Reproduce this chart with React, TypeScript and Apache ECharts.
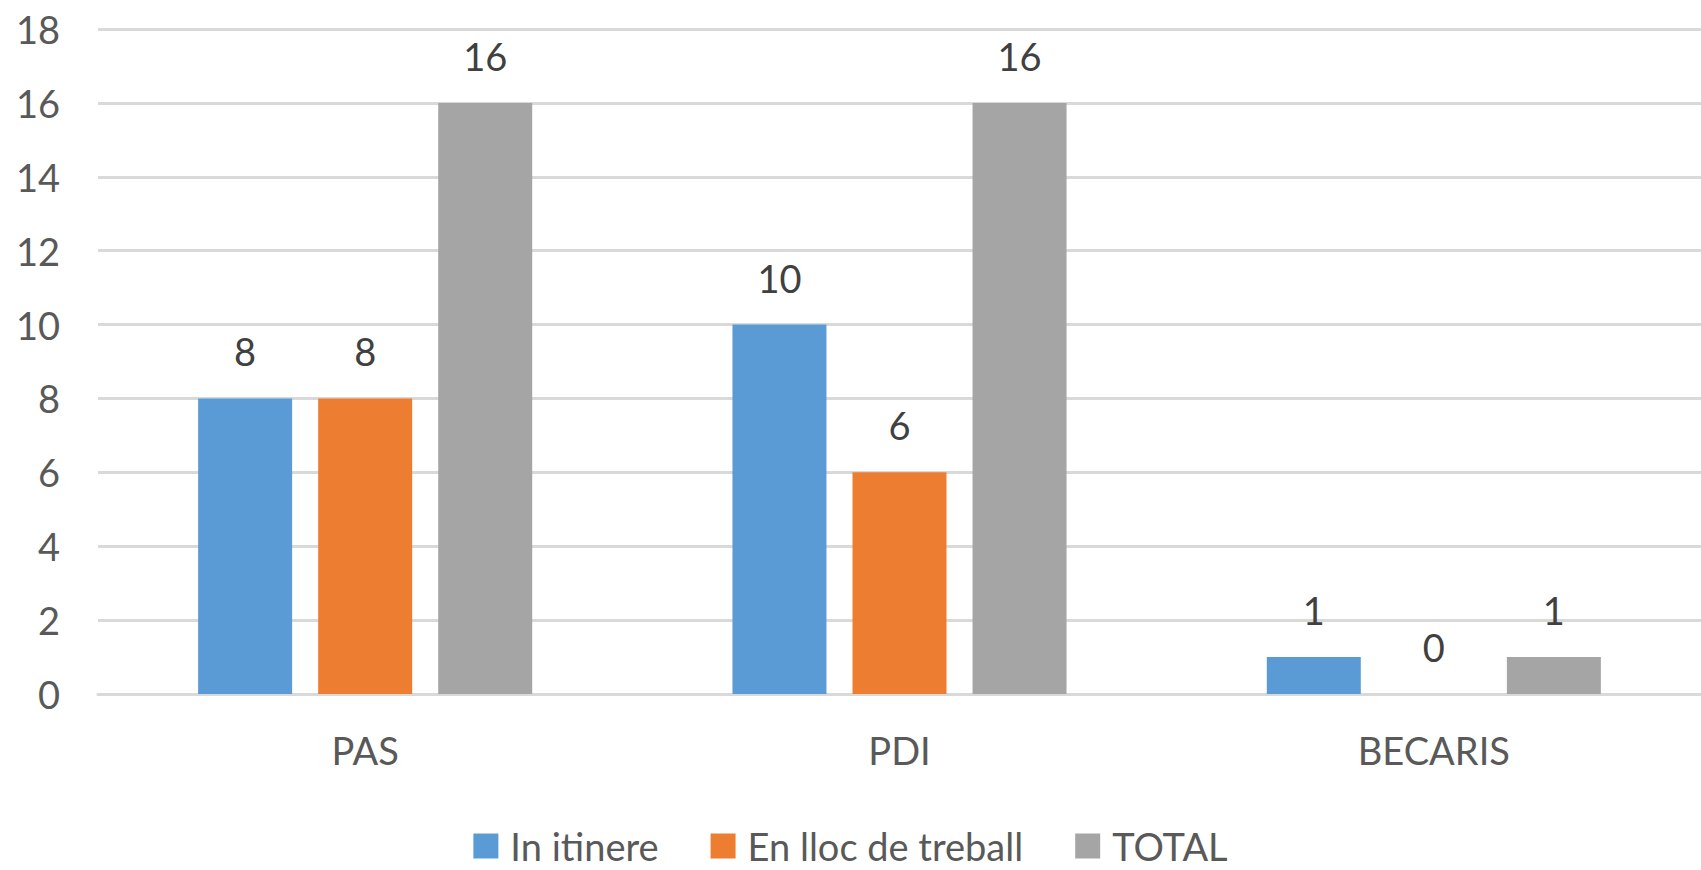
import React, { useEffect, useRef } from "react";
import * as echarts from "echarts";

const categories = ["PAS", "PDI", "BECARIS"];
const seriesNames = ["In itinere", "En lloc de treball", "TOTAL"];
const inItinere = [8, 10, 1];
const enLloc = [8, 6, 0];
const total = [16, 16, 1];
const colors = ["#5B9BD5", "#ED7D31", "#A5A5A5"];

const FONT = "Lato";
const TXT = "#595959";

export default function App() {
  const ref = useRef<HTMLDivElement>(null);
  useEffect(() => {
    document.body.style.margin = "0";
    const chart = echarts.init(ref.current!, null, { renderer: "svg" });
    const values = [inItinere, enLloc, total];
    chart.setOption({
      animation: false,
      textStyle: { fontFamily: FONT },
      grid: { left: 98, right: -29, top: 29, bottom: 176, containLabel: false },
      legend: {
        data: seriesNames,
        top: 822,
        left: "center",
        itemWidth: 25,
        itemHeight: 25,
        itemGap: 52,
        icon: "rect",
        textStyle: { fontFamily: FONT, fontSize: 38, lineHeight: 38, color: TXT, padding: [0, 0, 0, 7] },
      },
      xAxis: {
        type: "category",
        data: categories,
        axisLine: { show: true, lineStyle: { color: "#D9D9D9", width: 3 } },
        axisTick: { show: false },
        axisLabel: { fontFamily: FONT, fontSize: 38, color: TXT, margin: 37 },
      },
      yAxis: {
        type: "value",
        min: 0,
        max: 18,
        interval: 2,
        axisLine: { show: false },
        axisTick: { show: false },
        splitLine: { lineStyle: { color: "#D9D9D9", width: 3 } },
        axisLabel: { fontFamily: FONT, fontSize: 38, color: TXT, margin: 38 },
      },
      series: seriesNames.map((name, i) => ({
        name,
        type: "bar",
        data: values[i],
        barWidth: 94,
        barGap: "27.7%",
        itemStyle: { color: colors[i] },
        label: {
          show: true,
          position: "top",
          distance: 28,
          fontFamily: FONT,
          fontSize: 38,
          color: "#404040",
        },
      })),
    });
    return () => chart.dispose();
  }, []);
  return <div ref={ref} style={{ width: 1701, height: 870 }} />;
}
